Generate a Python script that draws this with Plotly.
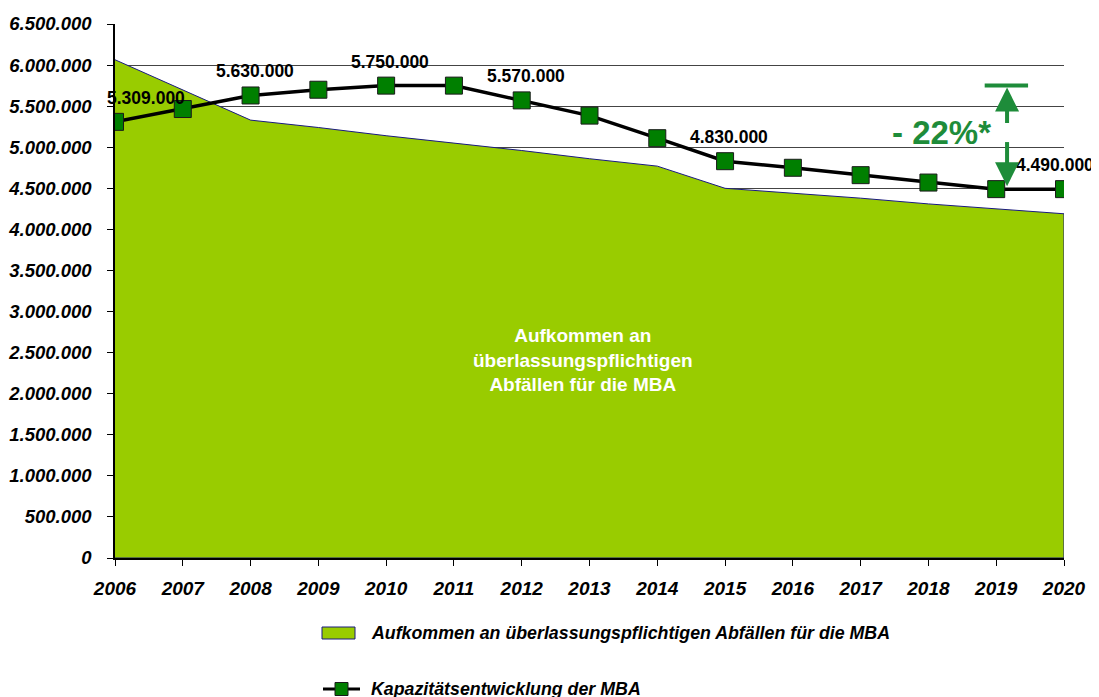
import plotly.graph_objects as go

years = list(range(2006, 2021))
aufkommen = [6065000, 5700000, 5330000, 5240000, 5140000, 5050000, 4960000, 4860000,
             4770000, 4500000, 4440000, 4380000, 4310000, 4250000, 4190000]
kapazitaet = [5309000, 5465000, 5630000, 5700000, 5750000, 5750000, 5570000, 5385000,
              5110000, 4830000, 4750000, 4660000, 4570000, 4490000, 4490000]
labelled_years = [2006, 2008, 2010, 2012, 2015, 2020]
label_xshift = {2006: 31, 2020: -9}

name_area = "Aufkommen an überlassungspflichtigen Abfällen für die MBA"
name_line = "Kapazitätsentwicklung der MBA"
center_text = "Aufkommen an<br>überlassungspflichtigen<br>Abfällen für die MBA"
change_text = "- 22%*"

FONT = "Liberation Sans, Arial, sans-serif"
GREEN_TXT = "#1E8C3A"
AREA_COL = "#99CC00"
MARK_COL = "#007F00"

# plot area in screen pixels (page has an 8px body margin)
PX0, PX1, PY0, PY1 = 115, 1064, 24, 558
OFF = 8


def de(v):
    return f"{v:,.0f}".replace(",", ".")


def px_x(px):
    return (px - PX0) / (PX1 - PX0)


def px_y(py):
    return (PY1 - py) / (PY1 - PY0)


fig = go.Figure()
fig.add_trace(go.Scatter(
    x=years + [years[-1], years[0]], y=aufkommen + [0, 0],
    fill="toself", fillcolor=AREA_COL, mode="lines",
    line=dict(color="#1a1a80", width=1), name=name_area,
    showlegend=False, hoverinfo="skip"))
fig.add_trace(go.Scatter(
    x=years, y=kapazitaet, mode="lines+markers", name=name_line,
    line=dict(color="black", width=3.5),
    marker=dict(symbol="square", size=17, color=MARK_COL,
                line=dict(color="#1a1a1a", width=1)),
    showlegend=False))

annotations = []
for yr in labelled_years:
    v = kapazitaet[years.index(yr)]
    annotations.append(dict(x=yr, y=v, text=de(v), showarrow=False,
                            xshift=label_xshift.get(yr, 4), yshift=24,
                            font=dict(family=FONT, size=17.5, color="black", weight="bold")))
annotations.append(dict(x=2012.9, y=2410000, text=center_text, showarrow=False,
                        font=dict(family=FONT, size=19, color="white", weight="bold")))
annotations.append(dict(x=2018.2, y=5185000, text=change_text, showarrow=False,
                        font=dict(family=FONT, size=33, color=GREEN_TXT, weight="bold")))
xa = 2019.16
top = max(kapazitaet)
bottom = kapazitaet[-1]
annotations.append(dict(x=xa, y=top, yshift=-2, ax=0, ay=37, showarrow=True, text="",
                        arrowhead=2, arrowsize=1.2, arrowwidth=4, arrowcolor=GREEN_TXT))
annotations.append(dict(x=xa, y=bottom, yshift=3, ax=0, ay=-18, showarrow=True, text="",
                        arrowhead=2, arrowsize=1.2, arrowwidth=4, arrowcolor=GREEN_TXT))

shapes = [
    dict(type="line", x0=2018.83, x1=2019.47, y0=top, y1=top,
         line=dict(color=GREEN_TXT, width=4)),
    dict(type="line", x0=xa, x1=xa, y0=5063000, y1=4808000,
         line=dict(color=GREEN_TXT, width=4)),
]

# manual legend
legend_font = dict(family=FONT, size=17.8, color="black", weight="bold", style="italic")
shapes.append(dict(type="rect", xref="paper", yref="paper",
                   x0=px_x(322), x1=px_x(355), y0=px_y(639), y1=px_y(627),
                   fillcolor=AREA_COL, line=dict(color="#1a1a80", width=1)))
annotations.append(dict(xref="paper", yref="paper", x=px_x(369), y=px_y(633),
                        xanchor="left", yanchor="middle", showarrow=False,
                        text=name_area, font=legend_font))
shapes.append(dict(type="line", xref="paper", yref="paper",
                   x0=px_x(323), x1=px_x(360), y0=px_y(689), y1=px_y(689),
                   line=dict(color="black", width=3)))
shapes.append(dict(type="rect", xref="paper", yref="paper",
                   x0=px_x(335), x1=px_x(348), y0=px_y(695.5), y1=px_y(682.5),
                   fillcolor=MARK_COL, line=dict(color="#1a1a1a", width=1)))
annotations.append(dict(xref="paper", yref="paper", x=px_x(369), y=px_y(689),
                        xanchor="left", yanchor="middle", showarrow=False,
                        text=name_line, font=legend_font))

fig.update_layout(
    width=1099, height=697,
    margin=dict(l=PX0 - OFF, r=1099 - (PX1 - OFF), t=PY0 - OFF, b=697 - (PY1 - OFF),
                autoexpand=False),
    paper_bgcolor="white", plot_bgcolor="white",
    separators=",.",
    showlegend=False,
    annotations=annotations, shapes=shapes,
    xaxis=dict(range=[2006, 2020], tickvals=years, ticks="outside", ticklen=6,
               tickcolor="black", showline=True, linecolor="black", linewidth=1.5,
               showgrid=False, zeroline=False, ticklabelstandoff=6, automargin=False,
               tickfont=dict(family=FONT, size=19, color="black", weight="bold", style="italic")),
    yaxis=dict(range=[0, 6500000], dtick=500000, tickformat=",.0f", ticks="outside",
               ticklen=6, tickcolor="black", showline=True, linecolor="black", linewidth=1.5,
               showgrid=True, gridcolor="#444444", gridwidth=1, zeroline=False,
               ticklabelstandoff=12, automargin=False,
               tickfont=dict(family=FONT, size=18.5, color="black", weight="bold", style="italic")),
)
fig.write_html("out.html")
